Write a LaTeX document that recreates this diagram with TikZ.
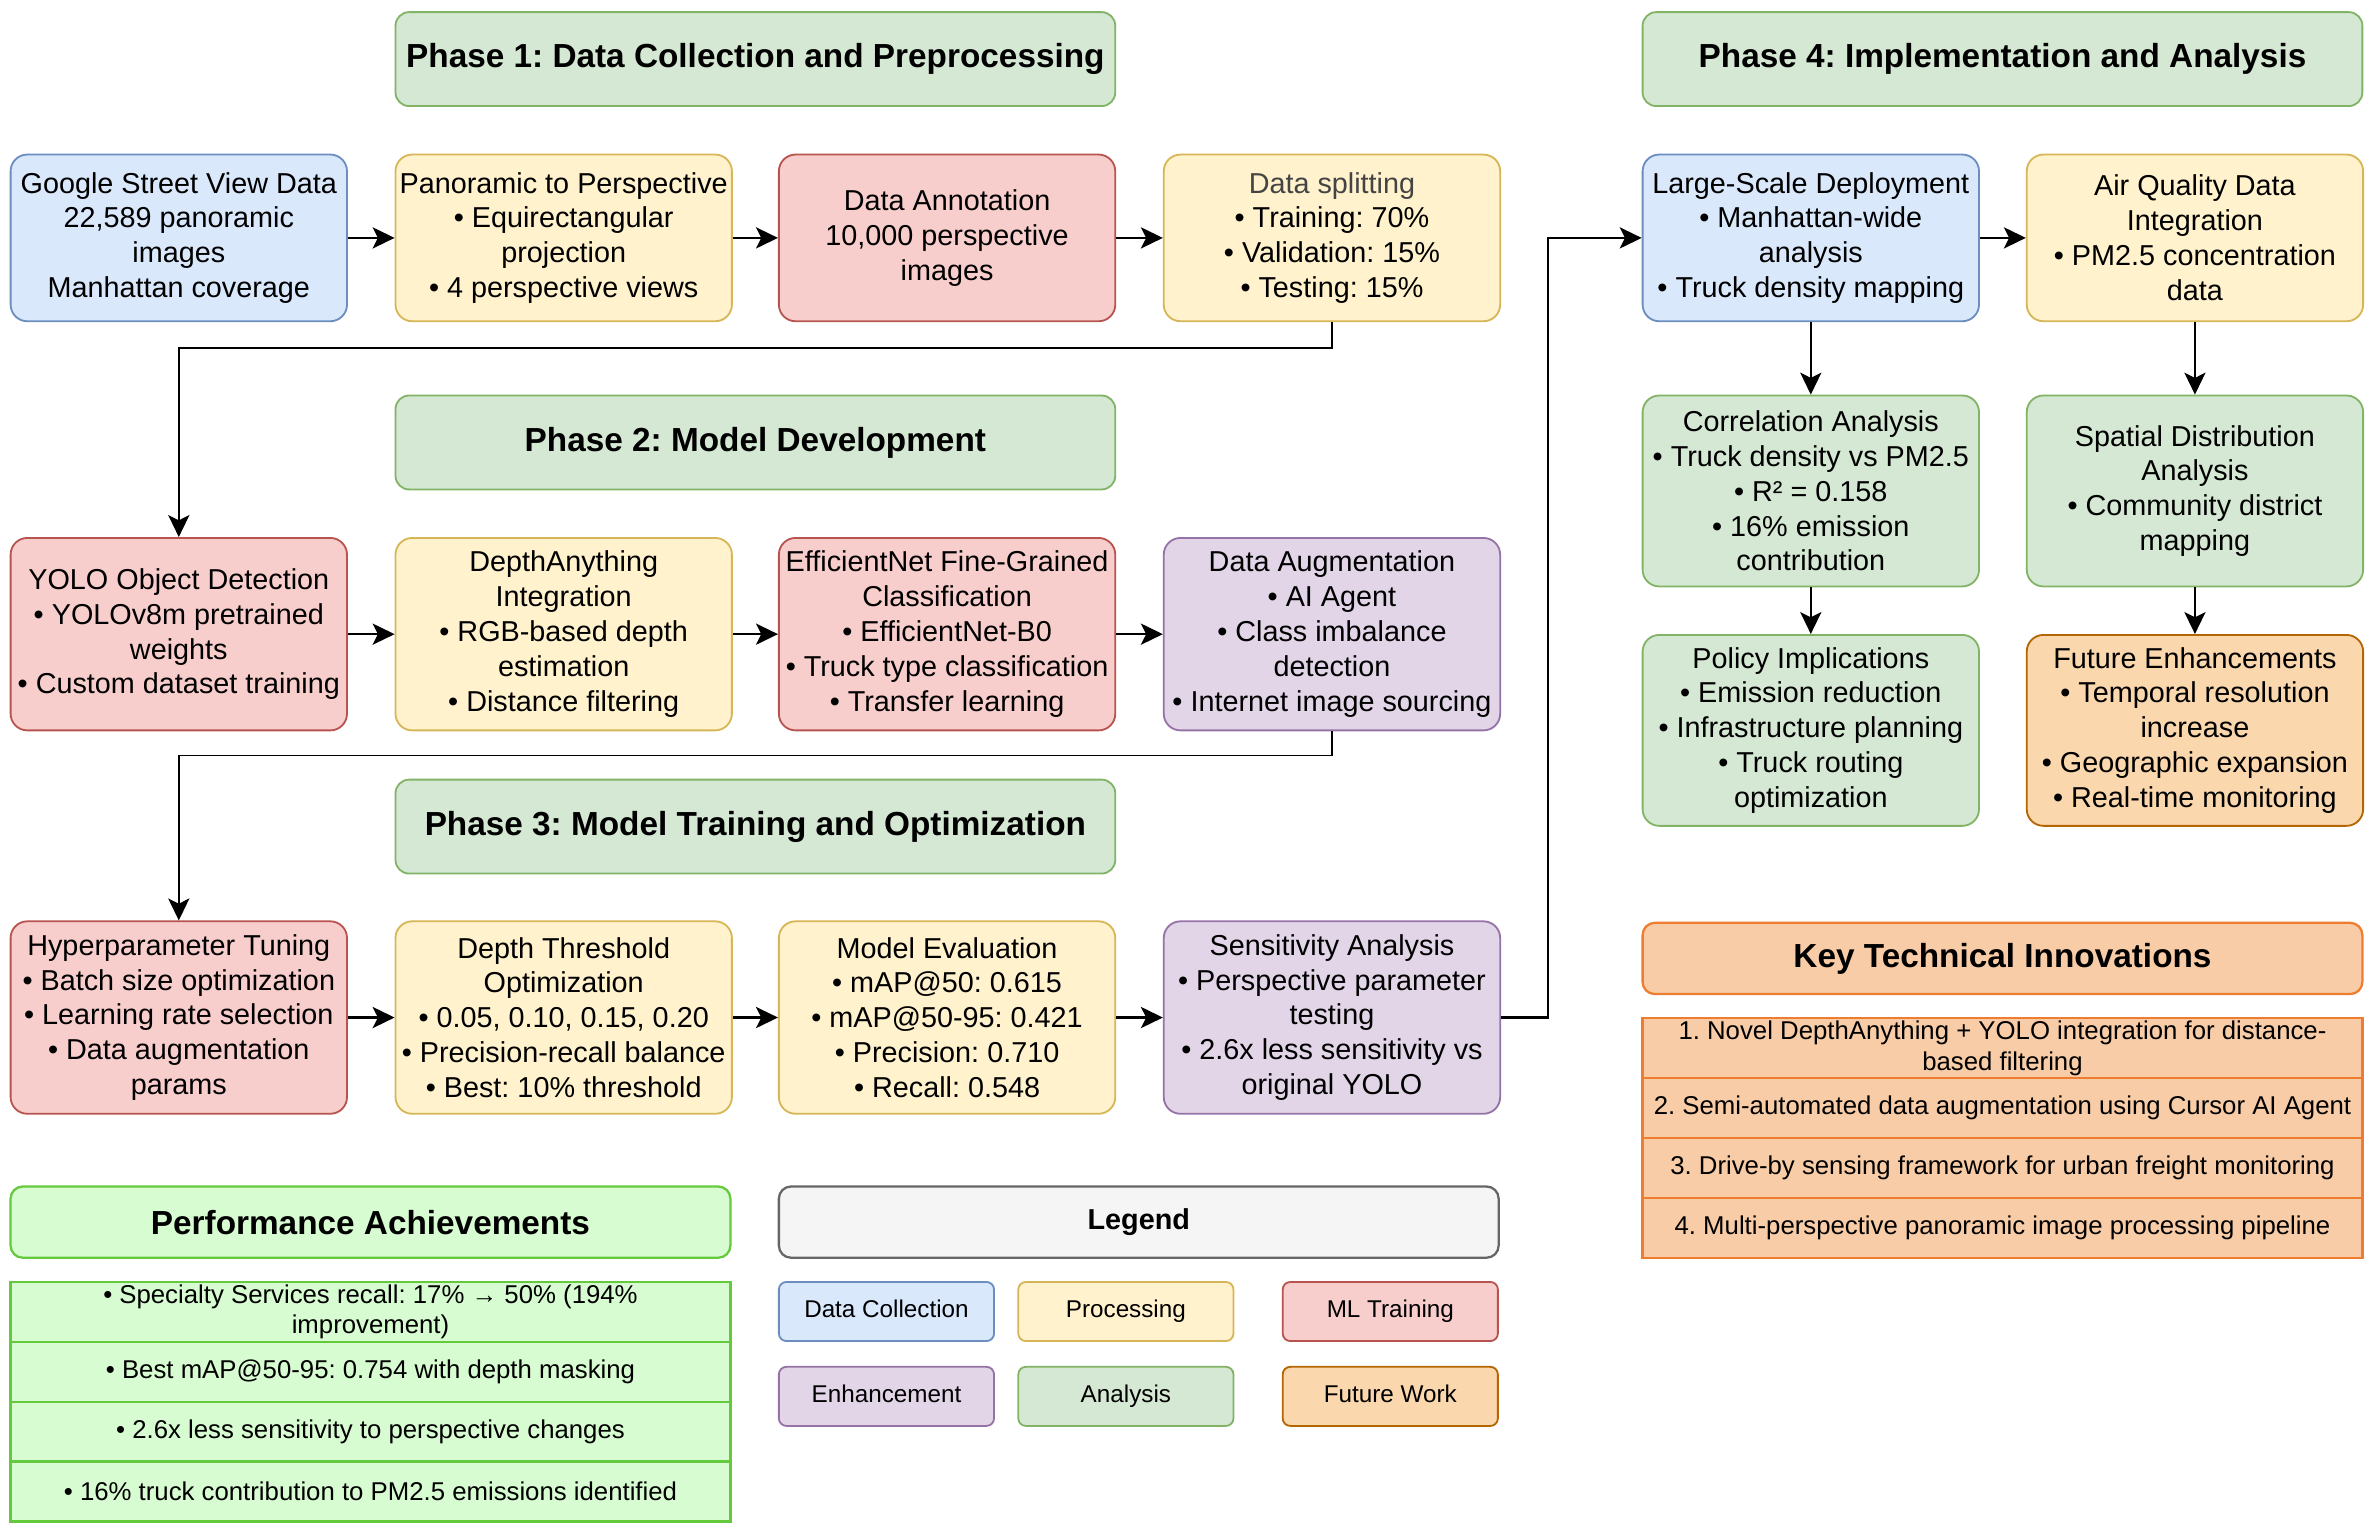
\documentclass[tikz,border=0pt]{standalone}
\usepackage{fontspec}
\setmainfont{Liberation Sans}
\frenchspacing
\usetikzlibrary{arrows.meta}

\definecolor{blueF}{HTML}{DAE8FC}\definecolor{blueD}{HTML}{6C8EBF}
\definecolor{yellowF}{HTML}{FFF2CC}\definecolor{yellowD}{HTML}{D6B656}
\definecolor{redF}{HTML}{F8CECC}\definecolor{redD}{HTML}{B85450}
\definecolor{purpleF}{HTML}{E1D5E7}\definecolor{purpleD}{HTML}{9673A6}
\definecolor{greenF}{HTML}{D5E8D4}\definecolor{greenD}{HTML}{82B366}
\definecolor{orangeF}{HTML}{FAD7AC}\definecolor{orangeD}{HTML}{B46504}
\definecolor{keyF}{HTML}{F8CCA6}\definecolor{keyD}{HTML}{EE7D32}
\definecolor{perfF}{HTML}{D8FCD1}\definecolor{perfD}{HTML}{64C93C}
\definecolor{greyF}{HTML}{F5F5F5}\definecolor{greyD}{HTML}{666666}
\definecolor{greyT}{HTML}{444444}

\begin{document}
\begin{tikzpicture}[x=1pt,y=-1pt,
	box/.style={draw, rounded corners=11pt, line width=1.2pt, minimum width=222pt, minimum height=127pt,
		inner sep=0pt, align=center, font=\fontsize{19}{23}\selectfont},
	phase/.style={draw=greenD, fill=greenF, rounded corners=9pt, line width=1.2pt, minimum width=475pt,
		minimum height=62pt, font=\fontsize{22}{26}\selectfont\bfseries},
	title/.style={rounded corners=8pt, line width=1.5pt, minimum width=475pt, minimum height=47pt,
		font=\fontsize{22}{26}\selectfont\bfseries},
	item/.style={line width=1.5pt, minimum width=475pt, minimum height=39.5pt, inner sep=0pt,
		align=center, font=\fontsize{17}{20}\selectfont},
	legbox/.style={rounded corners=5pt, line width=1.2pt, minimum width=142pt, minimum height=39pt,
		text height=12pt, text depth=3.5pt, font=\fontsize{16}{19}\selectfont},
	arr/.style={-{Stealth[length=14.5pt,width=14pt,inset=3.5pt]}, line width=1.1pt},
	harr/.style={arr, line width=1.4pt}]
	\useasboundingbox (0,0) rectangle (1568,1012);

	% Phase titles
	\node[phase] (ph1) at (498.5,39) {Phase 1: Data Collection and Preprocessing};
	\node[phase] (ph2) at (498.5,292) {Phase 2: Model Development};
	\node[phase] (ph3) at (498.5,545.5) {Phase 3: Model Training and Optimization};
	\node[phase] (ph4) at (1321.5,39) {Phase 4: Implementation and Analysis};

	% Phase 1
	\node[box, fill=blueF, draw=blueD, minimum height=110pt] (gsv) at (118,157)
		{Google Street View Data\\22,589 panoramic\\images\\Manhattan coverage};
	\node[box, fill=yellowF, draw=yellowD, minimum height=110pt] (pano) at (372,157)
		{Panoramic to Perspective\\• Equirectangular\\projection\\• 4 perspective views};
	\node[box, fill=redF, draw=redD, minimum height=110pt] (annot) at (625,157)
		{Data Annotation\\10,000 perspective\\images};
	\node[box, fill=yellowF, draw=yellowD, minimum height=110pt] (split) at (879,157)
		{\textcolor{greyT}{Data splitting}\\• Training: 70\%\\• Validation: 15\%\\• Testing: 15\%};

	% Phase 2
	\node[box, fill=redF, draw=redD] (yolo) at (118,418.5)
		{YOLO Object Detection\\• YOLOv8m pretrained\\weights\\• Custom dataset training};
	\node[box, fill=yellowF, draw=yellowD] (depth) at (372,418.5)
		{DepthAnything\\Integration\\• RGB-based depth\\estimation\\• Distance filtering};
	\node[box, fill=redF, draw=redD] (effnet) at (625,418.5)
		{EfficientNet Fine-Grained\\Classification\\• EfficientNet-B0\\• Truck type classification\\• Transfer learning};
	\node[box, fill=purpleF, draw=purpleD] (aug) at (879,418.5)
		{Data Augmentation\\• AI Agent\\• Class imbalance\\detection\\• Internet image sourcing};

	% Phase 3
	\node[box, fill=redF, draw=redD] (hyper) at (118,671.5)
		{Hyperparameter Tuning\\• Batch size optimization\\• Learning rate selection\\• Data augmentation\\params};
	\node[box, fill=yellowF, draw=yellowD] (thresh) at (372,671.5)
		{Depth Threshold\\Optimization\\• 0.05, 0.10, 0.15, 0.20\\• Precision-recall balance\\• Best: 10\% threshold};
	\node[box, fill=yellowF, draw=yellowD] (eval) at (625,671.5)
		{Model Evaluation\\• mAP@50: 0.615\\• mAP@50-95: 0.421\\• Precision: 0.710\\• Recall: 0.548};
	\node[box, fill=purpleF, draw=purpleD] (sens) at (879,671.5)
		{Sensitivity Analysis\\• Perspective parameter\\testing\\• 2.6x less sensitivity vs\\original YOLO};

	% Phase 4
	\node[box, fill=blueF, draw=blueD, minimum height=110pt] (deploy) at (1195,157)
		{Large-Scale Deployment\\• Manhattan-wide\\analysis\\• Truck density mapping};
	\node[box, fill=yellowF, draw=yellowD, minimum height=110pt] (air) at (1448.5,157)
		{Air Quality Data\\Integration\\• PM2.5 concentration\\data};
	\node[box, fill=greenF, draw=greenD, minimum height=126pt] (corr) at (1195,324)
		{Correlation Analysis\\• Truck density vs PM2.5\\• R² = 0.158\\• 16\% emission\\contribution};
	\node[box, fill=greenF, draw=greenD, minimum height=126pt] (spatial) at (1448.5,324)
		{Spatial Distribution\\Analysis\\• Community district\\mapping};
	\node[box, fill=greenF, draw=greenD, minimum height=126pt] (policy) at (1195,482)
		{Policy Implications\\• Emission reduction\\• Infrastructure planning\\• Truck routing\\optimization};
	\node[box, fill=orangeF, draw=orangeD, minimum height=126pt] (future) at (1448.5,482)
		{Future Enhancements\\• Temporal resolution\\increase\\• Geographic expansion\\• Real-time monitoring};

	% Arrows
	\draw[harr] (gsv) -- (pano);
	\draw[harr] (pano) -- (annot);
	\draw[harr] (annot) -- (split);
	\draw[arr] (split.south) -- ++(0,17) -| (yolo.north);
	\draw[harr] (yolo) -- (depth);
	\draw[harr] (depth) -- (effnet);
	\draw[harr] (effnet) -- (aug);
	\draw[arr] (aug.south) -- ++(0,16) -| (hyper.north);
	\draw[harr] (hyper) -- (thresh);
	\draw[harr] (thresh) -- (eval);
	\draw[harr] (eval) -- (sens);
	\draw[harr] (sens.east) -- ++(31,0) |- (deploy.west);
	\draw[harr] (deploy) -- (air);
	\draw[arr] (deploy) -- (corr);
	\draw[arr] (air) -- (spatial);
	\draw[arr] (corr) -- (policy);
	\draw[arr] (spatial) -- (future);

	% Key Technical Innovations
	\node[title, fill=keyF, draw=keyD] (key) at (1321.5,632.5) {Key Technical Innovations};
	\node[item, fill=keyF, draw=keyD] (key1) at (1321.5,691.75)
		{1. Novel DepthAnything + YOLO integration for distance-\\based filtering};
	\node[item, fill=keyF, draw=keyD] (key2) at (1321.5,731.25)
		{2. Semi-automated data augmentation using Cursor AI Agent};
	\node[item, fill=keyF, draw=keyD] (key3) at (1321.5,770.75)
		{3. Drive-by sensing framework for urban freight monitoring};
	\node[item, fill=keyF, draw=keyD] (key4) at (1321.5,810.25)
		{4. Multi-perspective panoramic image processing pipeline};

	% Performance Achievements
	\node[title, fill=perfF, draw=perfD] (perf) at (244.5,806.5) {Performance Achievements};
	\node[item, fill=perfF, draw=perfD] (perf1) at (244.5,865.75)
		{• Specialty Services recall: 17\% → 50\% (194\%\\improvement)};
	\node[item, fill=perfF, draw=perfD] (perf2) at (244.5,905.25)
		{• Best mAP@50-95: 0.754 with depth masking};
	\node[item, fill=perfF, draw=perfD] (perf3) at (244.5,944.75)
		{• 2.6x less sensitivity to perspective changes};
	\node[item, fill=perfF, draw=perfD] (perf4) at (244.5,984.25)
		{• 16\% truck contribution to PM2.5 emissions identified};

	% Legend
	\node[title, fill=greyF, draw=greyD, font=\fontsize{19}{23}\selectfont\bfseries] (leg) at (751.5,806.5) {Legend};
	\foreach \x/\y/\c/\t [count=\i] in {585/865.5/blue/Data Collection, 743/865.5/yellow/Processing,
		917.5/865.5/red/ML Training, 585/921.5/purple/Enhancement, 743/921.5/green/Analysis,
		917.5/921.5/orange/Future Work}
		\node[legbox, fill=\c F, draw=\c D] (leg\i) at (\x,\y) {\t};
\end{tikzpicture}
\end{document}
